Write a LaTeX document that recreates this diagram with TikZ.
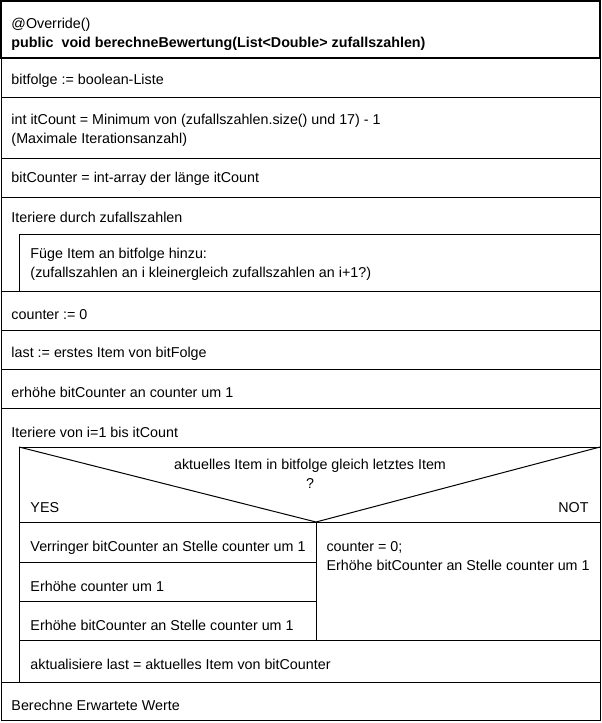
\documentclass[tikz,border=0pt]{standalone}
\usepackage{fontspec}
\setmainfont{Liberation Sans}
\usepackage{tikz}
\usetikzlibrary{positioning}

\begin{document}
\begin{tikzpicture}[x=1pt,y=-1pt,line width=1pt,
                    txt/.style={anchor=west,inner sep=0pt,align=left,font=\fontsize{14.3}{19}\selectfont},
                    mid txt/.style={txt,anchor=center,align=center},
                    thick line/.style={line width=2pt}]

 \useasboundingbox (0,0) rectangle (602,723);
 \fill[white] (0,0) rectangle (602,723);

 % frame and header
 \draw (1,1) rectangle (600,720);
 \draw[thick line] (1,1) rectangle (600,58);

 \node[txt] (hdr) at (11,34.5) {@Override()\\\textbf{public\ \ void berechneBewertung(List<Double> zufallszahlen)}};

 \node[txt] (bitfolge) at (11,81) {bitfolge := boolean-Liste};
 \draw (1,97) -- (600,97);

 \node[txt] (itcount) at (11,130) {int itCount = Minimum von (zufallszahlen.size() und 17) - 1\\(Maximale Iterationsanzahl)};
 \draw (1,158) -- (600,158);

 \node[txt] (bitcounter) at (11,179) {bitCounter = int-array der länge itCount};
 \draw (1,197) -- (600,197);

 % erste Schleife
 \node[txt] (loopA) at (11,217) {Iteriere durch zufallszahlen};
 \draw (19,291) -- (19,234) -- (600,234);
 \node[txt] (fuege) at (30,264) {Füge Item an bitfolge hinzu:\\(zufallszahlen an i kleinergleich zufallszahlen an i+1?)};
 \draw (1,291) -- (600,291);

 \node[txt] (counter) at (11,315) {counter := 0};
 \draw (1,330) -- (600,330);

 \node[txt] (last) at (11,354) {last := erstes Item von bitFolge};
 \draw (1,369) -- (600,369);

 \node[txt] (erhoehe) at (11,392) {erhöhe bitCounter an counter um 1};
 \draw (1,408) -- (600,408);

 % zweite Schleife mit Verzweigung
 \node[txt] (loopB) at (11,432) {Iteriere von i=1 bis itCount};
 \draw (19,682) -- (19,447) -- (600,447);
 \draw (19,447) -- (316,522) -- (600,447);
 \node[mid txt] (cond) at (310,466) {aktuelles Item in bitfolge gleich letztes Item};
 \node[mid txt] (qmark) at (310,484) {?};
 \node[txt] (yes) at (30,508) {YES};
 \node[txt,anchor=east] (not) at (589,508) {NOT};
 \draw (19,522) -- (600,522);
 \draw (316,522) -- (316,640);

 \node[txt] (verr) at (30,548) {Verringer bitCounter an Stelle counter um 1};
 \draw (19,562) -- (316,562);
 \node[txt] (incC) at (30,586) {Erhöhe counter um 1};
 \draw (19,601) -- (316,601);
 \node[txt] (incB) at (30,625) {Erhöhe bitCounter an Stelle counter um 1};

 \node[txt] (reset) at (326,556.5) {counter = 0;\\Erhöhe bitCounter an Stelle counter um 1};
 \draw (19,640) -- (600,640);

 \node[txt] (update) at (30,664) {aktualisiere last = aktuelles Item von bitCounter};
 \draw (1,682) -- (600,682);

 \node[txt] (expected) at (11,705) {Berechne Erwartete Werte};

\end{tikzpicture}
\end{document}
